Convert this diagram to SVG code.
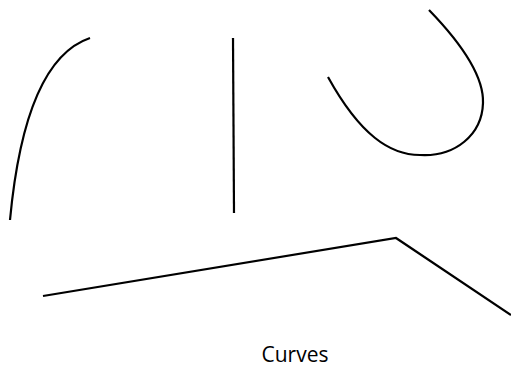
<svg xmlns="http://www.w3.org/2000/svg" width="511" height="368" viewBox="0 0 511 368">
<style>
.c{fill:none;stroke:#000;stroke-width:2.2;stroke-linecap:butt;stroke-linejoin:miter}
.t{font-family:"Open Sans","Liberation Sans",sans-serif;font-size:21px;fill:#000}
</style>
<rect width="511" height="368" fill="#fff"/>
<path class="c" d="M10,220 Q25,60 90,38"/>
<path class="c" d="M233,38 L234,213"/>
<path class="c" d="M429,10 C460,42 484,75 483,103 C482,135 455,157 420,155 C390,155 360,135 328,77"/>
<path class="c" d="M43,296 L396,238 L511,315"/>
<text class="t" x="295" y="362" text-anchor="middle">Curves</text>
</svg>
